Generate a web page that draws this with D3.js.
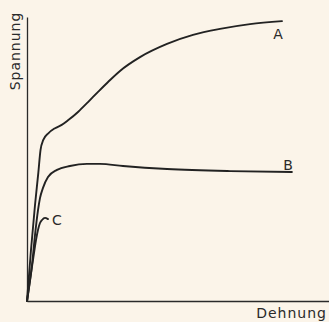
<!DOCTYPE html>
<html><head><meta charset="utf-8">
<script src="https://cdn.jsdelivr.net/npm/d3@7"></script>
<style>
html,body{margin:0;padding:0;background:#fbf4e9;}
svg{display:block;}
text{font-family:"DejaVu Sans",sans-serif;fill:#2a2a2a;}
</style></head>
<body>
<script>
// Data (arbitrary units: Dehnung 0-100, Spannung 0-100)
const curveA = [[0,0],[1.33,17],[2.67,32],[3.77,42.7],[4.5,50.3],[5.43,53.7],[7.1,55.9],[9.33,57.6],[11.57,58.7],[13.77,60.3],[17.1,63.1],[20.43,66.4],[23.77,69.8],[27.1,73.1],[31,76.7],[37.67,81.3],[46.67,85.7],[55.33,88.7],[64.33,90.7],[74.33,92.3],[85,93.3]];
const curveB = [[0,0],[1.67,12],[2.67,22],[3.67,30.3],[4.33,34.3],[5.33,37.7],[7,41.3],[10,43.7],[14.3,45],[20,45.7],[24.3,45.7],[32,45],[46.7,44],[67.7,43.3],[88.3,43]];
const curveC = [[0,0],[1,7],[2,13.7],[3,20.3],[3.67,23.7],[4.33,26],[5,27],[6,27.7],[7,27.3]];
const seriesNames = ["A","B","C"];
const labelPos = [[83.7,89],[87,45.5],[10,27]];
const xLabel = "Dehnung";
const yLabel = "Spannung";

const W = 329, H = 322;
const svg = d3.select("body").append("svg").attr("width", W).attr("height", H);
const x = d3.scaleLinear().domain([0,100]).range([27,327]);
const y = d3.scaleLinear().domain([0,100]).range([301,1]);

// axes
svg.append("g").attr("transform","translate(0,301)")
  .call(d3.axisBottom(x.copy().range([27,329])).ticks(0).tickSizeOuter(0))
  .call(g=>g.select(".domain").attr("stroke","#2a2a2a").attr("stroke-width",1.3));
svg.append("g").attr("transform","translate(27,0)")
  .call(d3.axisLeft(y.copy().range([301,17])).ticks(0).tickSizeOuter(0))
  .call(g=>g.select(".domain").attr("stroke","#2a2a2a").attr("stroke-width",1.3));

const line = d3.line().x(d=>x(d[0])).y(d=>y(d[1])).curve(d3.curveMonotoneX);
[curveA, curveB, curveC].forEach(c=>{
  svg.append("path").attr("d", line(c)).attr("fill","none")
    .attr("stroke","#222").attr("stroke-width",1.9).attr("stroke-linecap","round");
});

seriesNames.forEach((n,i)=>{
  svg.append("text").attr("x", x(labelPos[i][0])).attr("y", y(labelPos[i][1]))
    .attr("text-anchor","middle").attr("dominant-baseline","central")
    .attr("font-size",14).text(n);
});

svg.append("text").attr("x",327).attr("y",318).attr("text-anchor","end")
  .attr("font-size",14).attr("letter-spacing",1).text(xLabel);
svg.append("text").attr("transform","translate(20,51) rotate(-90)").attr("text-anchor","middle")
  .attr("font-size",14).attr("letter-spacing",1).text(yLabel);
</script>
</body></html>
